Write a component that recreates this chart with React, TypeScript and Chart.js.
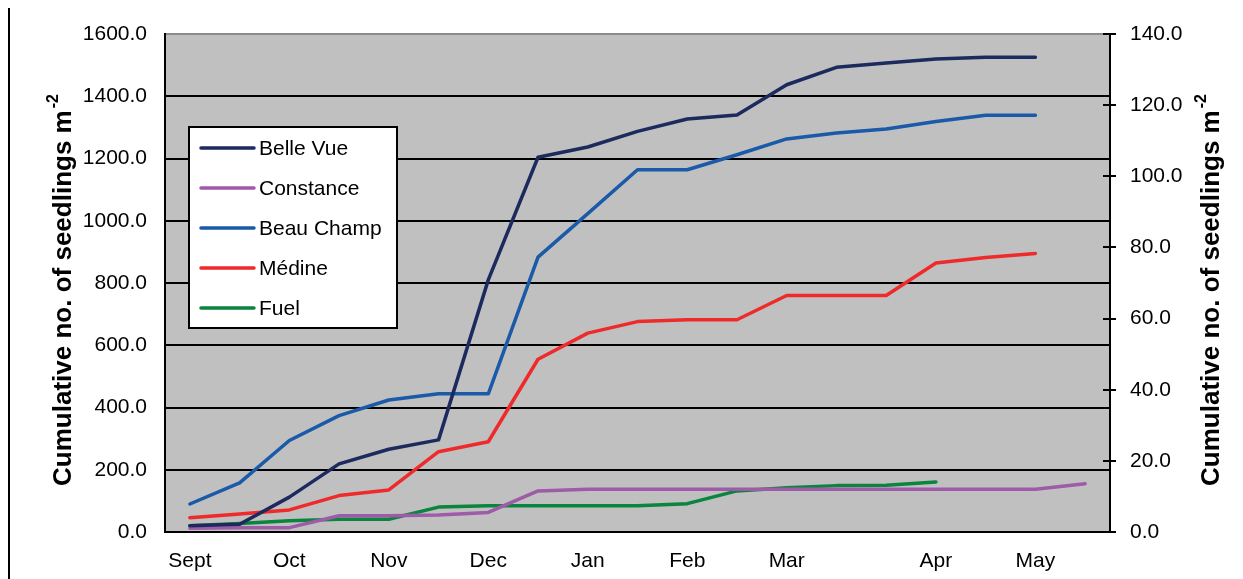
import React, { useEffect, useRef } from "react";
import { Chart, registerables } from "chart.js";

Chart.register(...registerables);

// ---- Data ----
const categories = ["Sept", "", "Oct", "", "Nov", "", "Dec", "", "Jan", "", "Feb", "", "Mar", "", "", "Apr", "", "May", ""];
const seriesNames = ["Belle Vue", "Constance", "Beau Champ", "Médine", "Fuel"];
const belleVue = [20, 25, 112, 219, 266, 296, 810, 1204, 1237, 1287, 1327, 1340, 1437, 1493, 1507, 1520, 1525, 1525, null];
const constance = [12, 14, 14, 52, 52, 55, 63, 132, 137, 137, 137, 137, 137, 137, 137, 137, 137, 137, 155];
const beauChamp = [90, 158, 294, 374, 424, 444, 444, 883, 1023, 1164, 1164, 1212, 1263, 1282, 1295, 1319, 1339, 1339, null];
const medine = [46, 58, 71, 117, 135, 258, 290, 555, 639, 676, 682, 682, 760, 760, 760, 864, 882, 895, null];
const fuel = [20, 27, 36, 41, 41, 80, 84, 84, 84, 84, 91, 132, 142, 149, 150, 161, null, null, null];
const seriesColors = ["#1c2a5e", "#9e5ba8", "#1a5aa8", "#ee2a2a", "#0a843e"];
const leftMin = 0, leftMax = 1600, leftStep = 200;
const rightMin = 0, rightMax = 140, rightStep = 20;
const axisTitle = "Cumulative no. of seedlings m";
const axisTitleSup = "-2";

const FONT = "'Liberation Sans', Arial, sans-serif";

function drawRotatedTitle(ctx: CanvasRenderingContext2D, cx: number, cy: number) {
  const mainFont = `bold 26px ${FONT}`;
  const supFont = `bold 16px ${FONT}`;
  ctx.save();
  ctx.translate(cx, cy);
  ctx.rotate(-Math.PI / 2);
  ctx.font = mainFont;
  const w1 = ctx.measureText(axisTitle).width;
  ctx.font = supFont;
  const w2 = ctx.measureText(axisTitleSup).width;
  const total = w1 + 2 + w2;
  ctx.fillStyle = "#000";
  ctx.textBaseline = "alphabetic";
  ctx.textAlign = "left";
  ctx.font = mainFont;
  ctx.fillText(axisTitle, -total / 2, 9);
  ctx.font = supFont;
  ctx.fillText(axisTitleSup, -total / 2 + w1 + 2, -4);
  ctx.restore();
}

const decorPlugin = {
  id: "decor",
  beforeDraw(chart: any) {
    const { ctx, chartArea: a } = chart;
    ctx.save();
    ctx.fillStyle = "#c0c0c0";
    ctx.fillRect(a.left, a.top, a.right - a.left, a.bottom - a.top);
    ctx.restore();
  },
  afterDraw(chart: any) {
    const { ctx, chartArea: a } = chart;
    // page border line at left
    ctx.save();
    ctx.strokeStyle = "#000";
    ctx.lineWidth = 2;
    ctx.beginPath();
    ctx.moveTo(9, 8);
    ctx.lineTo(9, 579);
    ctx.stroke();

    // crossing tick marks on the right axis
    const y2 = chart.scales.y2;
    y2.ticks.forEach((t: any) => {
      const py = Math.round(y2.getPixelForValue(t.value));
      ctx.beginPath();
      ctx.moveTo(a.right - 7, py);
      ctx.lineTo(a.right + 6, py);
      ctx.stroke();
    });
    ctx.restore();

    // legend
    const lx = 189, ly = 127, lw = 208, lh = 201;
    ctx.save();
    ctx.fillStyle = "#fff";
    ctx.fillRect(lx, ly, lw, lh);
    ctx.strokeStyle = "#000";
    ctx.lineWidth = 2;
    ctx.strokeRect(lx, ly, lw, lh);
    ctx.font = `21px ${FONT}`;
    ctx.textBaseline = "middle";
    ctx.textAlign = "left";
    seriesNames.forEach((name, i) => {
      const y = 148 + i * 40;
      ctx.strokeStyle = seriesColors[i];
      ctx.lineWidth = 3.5;
      ctx.lineCap = "round";
      ctx.beginPath();
      ctx.moveTo(201, y);
      ctx.lineTo(254, y);
      ctx.stroke();
      ctx.fillStyle = "#000";
      ctx.fillText(name, 259, y + 1);
    });
    ctx.restore();

    const cy = (a.top + a.bottom) / 2 + 7;
    drawRotatedTitle(ctx, 62, cy);
    drawRotatedTitle(ctx, 1210, cy);
  },
};

export default function App() {
  const ref = useRef<HTMLCanvasElement | null>(null);
  useEffect(() => {
    if (!ref.current) return;
    Chart.defaults.font.family = FONT;
    Chart.defaults.color = "#000";
    const data = [belleVue, constance, beauChamp, medine, fuel];
    const chart = new Chart(ref.current, {
      type: "line",
      data: {
        labels: categories,
        datasets: data.map((d, i) => ({
          label: seriesNames[i],
          data: d,
          borderColor: seriesColors[i],
          backgroundColor: seriesColors[i],
          borderWidth: 3.5,
          pointRadius: 0,
          tension: 0,
          borderJoinStyle: "round",
          borderCapStyle: "round",
          yAxisID: "y",
        })),
      },
      options: {
        responsive: false,
        animation: false,
        layout: { padding: { top: 34, left: 0, right: 0, bottom: 0 } },
        plugins: { legend: { display: false }, tooltip: { enabled: false } },
        scales: {
          x: {
            offset: true,
            grid: { drawOnChartArea: false, drawTicks: false },
            border: { display: true, color: "#000", width: 2 },
            ticks: { autoSkip: false, maxRotation: 0, minRotation: 0, padding: 17, font: { size: 21 }, color: "#000" },
            afterFit: (s: any) => { s.height = 47; },
          },
          y: {
            position: "left",
            min: leftMin,
            max: leftMax,
            grid: {
              drawTicks: false,
              color: (c: any) => (c.tick && c.tick.value === leftMax ? "#8a8a8a" : "#000"),
              lineWidth: 2,
            },
            border: { display: true, color: "#000", width: 2 },
            ticks: {
              stepSize: leftStep,
              padding: 18,
              font: { size: 21 },
              color: "#000",
              callback: (v: any) => Number(v).toFixed(1),
            },
            afterFit: (s: any) => { s.width = 165; },
          },
          y2: {
            position: "right",
            min: rightMin,
            max: rightMax,
            grid: { drawOnChartArea: false, drawTicks: false },
            border: { display: true, color: "#000", width: 2 },
            ticks: {
              stepSize: rightStep,
              padding: 20,
              font: { size: 21 },
              color: "#000",
              callback: (v: any) => Number(v).toFixed(1),
            },
            afterFit: (s: any) => { s.width = 133; },
          },
        },
      } as any,
      plugins: [decorPlugin],
    });
    return () => chart.destroy();
  }, []);
  return (
    <div style={{ position: "absolute", left: 0, top: 0, width: 1243, height: 579, background: "#fff" }}>
      <canvas ref={ref} width={1243} height={579} style={{ display: "block" }} />
    </div>
  );
}
